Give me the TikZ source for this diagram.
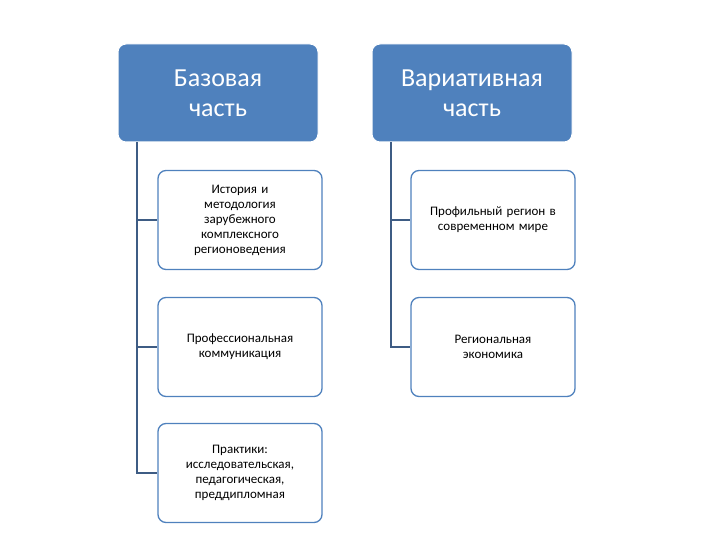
\documentclass[tikz,border=0pt]{standalone}
\usepackage{fontspec}
\setmainfont{Carlito}
\definecolor{hdr}{HTML}{4F81BD}
\definecolor{conn}{HTML}{3E5C84}
\begin{document}
\begin{tikzpicture}[x=1pt,y=-1pt,
  head/.style={draw=white,line width=1pt,fill=hdr,rounded corners=8pt,minimum width=200pt,minimum height=98pt,text=white,font=\fontsize{26}{30}\selectfont,align=center,text width=190pt},
  sub/.style={draw=hdr,line width=1.3pt,fill=white,rounded corners=8pt,minimum width=164pt,minimum height=99pt,font=\fontsize{13}{15}\selectfont,align=center,text width=150pt},
  conline/.style={draw=conn,line width=1.5pt}]
\useasboundingbox (0,0) rectangle (720,540);
\node[head] (b) at (218,93) {Базовая\\часть};
\node[head] (v) at (472,93) {Вариативная\\часть};
\node[sub] (b1) at (240,220) {История и\\методология\\зарубежного\\комплексного\\регионоведения};
\node[sub] (b2) at (240,347) {Профессиональная\\коммуникация};
\node[sub] (b3) at (240,473) {Практики:\\исследовательская,\\педагогическая,\\преддипломная};
\node[sub] (v1) at (493,220) {Профильный регион в\\современном мире};
\node[sub] (v2) at (493,347) {Региональная\\экономика};
\coordinate (bs) at (137,142);
\coordinate (vs) at (391,142);
\draw[conline] (bs) |- (b3.west);
\draw[conline] (bs |- b1.west) -- (b1.west);
\draw[conline] (bs |- b2.west) -- (b2.west);
\draw[conline] (vs) |- (v2.west);
\draw[conline] (vs |- v1.west) -- (v1.west);
\end{tikzpicture}
\end{document}
